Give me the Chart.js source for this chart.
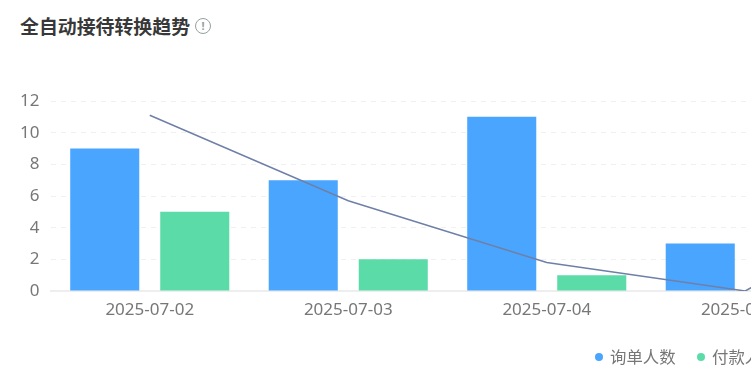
<!DOCTYPE html>
<html lang="zh">
<head>
  <meta charset="UTF-8">
  <title>全自动接待转换趋势</title>
  <script src="https://cdn.jsdelivr.net/npm/chart.js"></script>
  <style>
    html, body {
      margin: 0;
      width: 751px;
      height: 388px;
      overflow: hidden;
      background: #fff;
    }
    .title {
      position: absolute;
      left: 20px;
      top: 12px;
      font: bold 18.9px/28px "Noto Sans CJK SC", sans-serif;
      color: #383838;
      white-space: nowrap;
    }
    .tip {
      position: absolute;
      left: 195px;
      top: 18px;
      width: 14px;
      height: 14px;
      border: 1.5px solid #94a0a0;
      border-radius: 50%;
      font: bold 11px/14px "Noto Sans", sans-serif;
      color: #94a0a0;
      text-align: center;
    }
    #chart {
      position: absolute;
      left: 0;
      top: 0;
    }
    .legend-item {
      position: absolute;
      top: 344px;
      font: 16.4px/24px "Noto Sans CJK SC", sans-serif;
      color: #777;
      white-space: nowrap;
    }
    .legend-item i {
      position: absolute;
      left: -15px;
      top: 9px;
      width: 8px;
      height: 8px;
      border-radius: 50%;
    }
  </style>
</head>
<body>
  <div class="title">全自动接待转换趋势</div>
  <div class="tip">!</div>
  <canvas id="chart" width="1043" height="388"></canvas>
  <div class="legend-item" style="left:610px"><i style="background:#4aa5ff"></i>询单人数</div>
  <div class="legend-item" style="left:712px"><i style="background:#5bdba8"></i>付款人数</div>

<script>
  const dates = ['2025-07-02', '2025-07-03', '2025-07-04', '2025-07-05', '2025-07-06'];
  const inquiryCounts = [9, 7, 11, 3, null];
  const paidCounts = [5, 2, 1, null, null];
  const trendValues = [11.1, 5.7, 1.8, 0, 7];
  const yTicks = [0, 2, 4, 6, 8, 10, 12];

  const tickFont = { family: '"Noto Sans", sans-serif', size: 17 };

  new Chart(document.getElementById('chart').getContext('2d'), {
    type: 'bar',
    data: {
      labels: dates,
      datasets: [
        {
          type: 'line',
          label: '转换率',
          data: trendValues,
          borderColor: '#6f80a8',
          borderWidth: 1.5,
          pointRadius: 0,
          tension: 0,
          order: 0
        },
        {
          label: '询单人数',
          data: inquiryCounts,
          backgroundColor: '#4aa5ff',
          categoryPercentage: 0.907,
          barPercentage: 0.767,
          order: 1
        },
        {
          label: '付款人数',
          data: paidCounts,
          backgroundColor: '#5bdba8',
          categoryPercentage: 0.907,
          barPercentage: 0.767,
          order: 1
        }
      ]
    },
    options: {
      responsive: false,
      animation: false,
      layout: { padding: { top: 101 } },
      plugins: {
        legend: { display: false },
        tooltip: { enabled: false }
      },
      scales: {
        x: {
          grid: { display: false },
          border: { color: '#eeeeee', width: 2 },
          ticks: { color: '#777', font: tickFont, padding: 1, maxRotation: 0, autoSkip: false },
          afterFit: (scale) => { scale.height = 97; }
        },
        y: {
          min: 0,
          max: 12,
          grid: { color: '#f0f0f0', drawTicks: false },
          border: { display: false, dash: [5, 5] },
          ticks: {
            color: '#777',
            font: tickFont,
            padding: 11,
            stepSize: 2,
            callback: (v) => yTicks.includes(v) ? v : ''
          },
          afterFit: (scale) => { scale.width = 50.5; }
        }
      }
    }
  });
</script>
</body>
</html>
